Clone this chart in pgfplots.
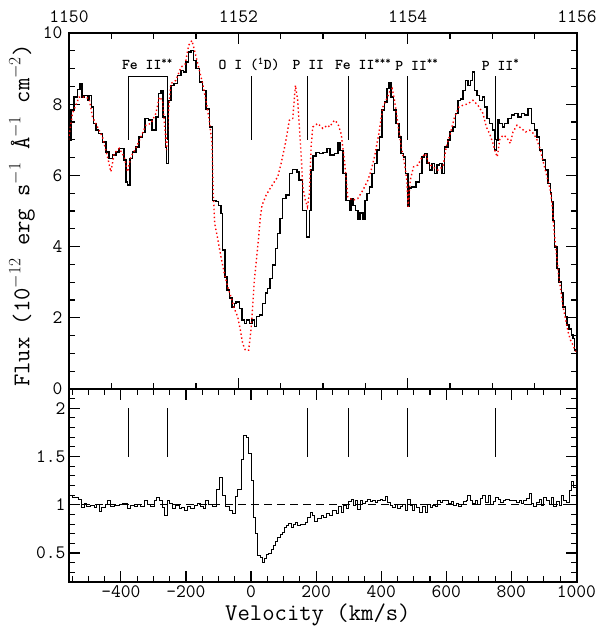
\documentclass[border=0pt]{standalone}
\usepackage{pgfplots}
\pgfplotsset{compat=1.18}
\begin{document}
\begin{tikzpicture}
\path[use as bounding box] (0pt,0pt) rectangle (601pt,630pt);
\pgfplotsset{
 every axis/.append style={
  scale only axis, width=508pt,
  axis line style={line width=1.6pt},
  every tick/.style={black, line width=1.1pt},
  major tick length=11pt, minor tick length=6pt,
  tick align=inside,
  tick label style={font=\fontsize{19}{20}\selectfont\ttfamily},
  /pgf/number format/assume math mode=true,
  label style={font=\fontsize{24}{25}\selectfont\ttfamily},
  xmin=-559.44, xmax=1001.78,
 }
}
% ---------------- top panel ----------------
\begin{axis}[at={(69pt,241pt)}, anchor=south west, height=356pt,
  ymin=0, ymax=10,
  xtick={-559.44,-39.03,481.38,1001.78}, xticklabels={1150,1152,1154,1156},
  minor xtick={-429.34,-299.23,-169.13,91.07,221.17,351.27,611.48,741.58,871.68},
  xticklabel pos=upper,
  xticklabel style={inner sep=1pt, yshift=9.5pt},
  yticklabel style={inner sep=1pt, xshift=-5.3pt},
  ytick={0,2,4,6,8,10}, minor ytick={0,0.5,...,10},
  ylabel={Flux (10$^{-12}$ erg s$^{-1}$ \AA$^{-1}$ cm$^{-2}$)},
  ylabel style={at={(axis description cs:-0.0925,0.487)}, anchor=center},
  clip=true]
\addplot[black, line width=1.5pt, const plot] coordinates {
(-561.1,7.0) (-553.9,7.83) (-543.6,8.2) (-533.4,8.41) (-526.2,8.58) (-520.0,8.2) (-512.9,8.25) (-502.6,8.1) (-497.5,8.25) (-490.3,7.92) (-484.2,7.46) (-477.0,7.27) (-468.8,7.17) (-456.5,6.94) (-446.2,6.66) (-436.0,6.48) (-425.7,6.57) (-415.4,6.66) (-405.2,6.76) (-389.8,6.43) (-384.7,5.82) (-379.5,5.73) (-372.4,6.48) (-364.2,6.66) (-353.9,6.8) (-343.7,7.08) (-333.4,7.2) (-325.2,7.6) (-315.0,7.55) (-304.7,7.27) (-292.4,7.64) (-284.2,8.3) (-277.0,8.39) (-269.8,7.64) (-263.6,6.8) (-259.5,6.34) (-253.4,8.1) (-246.2,8.53) (-236.0,8.58) (-225.7,8.81) (-215.4,8.95) (-208.3,8.9) (-200.1,9.19) (-191.9,9.47) (-184.7,9.51) (-177.5,9.23) (-169.3,9.0) (-159.0,8.62) (-148.8,8.39) (-138.5,7.86) (-128.3,7.36) (-118.0,5.3) (-107.7,5.26) (-99.5,5.16) (-92.4,4.93) (-87.2,3.9) (-80.1,3.15) (-73.9,2.78) (-66.7,2.55) (-58.5,2.31) (-51.3,2.4) (-46.2,2.45) (-36.0,2.26) (-27.8,1.94) (-19.5,1.84) (-13.4,1.94) (-5.2,1.84) (3.0,1.94) (10.2,1.75) (17.4,2.03) (25.6,2.08) (35.8,2.4) (44.0,2.69) (51.2,2.83) (58.4,3.1) (66.6,3.48) (74.8,3.95) (82.0,4.37) (89.2,4.79) (97.4,5.35) (107.6,5.45) (117.9,6.05) (128.2,6.17) (140.5,6.1) (148.0,5.87) (158.9,5.02) (171.2,4.27) (179.4,5.02) (184.6,6.15) (189.7,6.55) (199.9,6.64) (210.2,6.61) (220.5,6.64) (232.8,6.76) (243.0,6.57) (256.3,6.61) (266.6,6.91) (273.8,6.7) (282.0,6.05) (292.3,5.3) (302.5,5.02) (307.6,5.33) (312.8,5.16) (321.0,5.02) (328.1,4.76) (335.3,4.95) (343.5,4.78) (350.7,5.3) (355.8,5.49) (364.0,5.68) (372.3,6.05) (379.4,6.33) (386.6,6.71) (394.8,7.08) (403.0,7.83) (410.2,8.06) (417.4,8.44) (423.5,8.6) (430.7,8.2) (437.9,7.83) (446.1,7.46) (454.3,7.08) (461.5,6.61) (468.7,6.52) (474.8,6.05) (482.0,5.12) (487.1,5.64) (493.3,5.68) (507.6,5.82) (517.9,6.05) (526.1,6.52) (533.3,6.62) (540.4,6.35) (548.7,6.15) (556.9,6.33) (564.0,6.05) (571.2,6.29) (579.4,6.33) (587.6,6.05) (594.8,6.8) (605.1,7.0) (612.2,7.24) (620.5,7.36) (628.7,7.74) (635.9,8.11) (643.0,8.15) (651.2,8.39) (659.4,8.67) (666.6,8.53) (673.8,8.67) (679.9,8.9) (687.1,8.39) (694.3,8.25) (702.5,8.11) (710.7,8.2) (717.9,7.92) (725.1,7.6) (733.3,7.46) (741.5,7.27) (748.7,6.71) (753.8,7.0) (758.9,7.55) (764.0,7.46) (772.3,7.36) (779.4,7.46) (789.7,7.6) (800.0,7.69) (810.2,7.74) (820.5,7.64) (830.7,7.74) (841.0,7.69) (851.2,7.88) (861.5,7.46) (871.7,7.27) (878.9,7.08) (887.1,6.71) (895.3,6.43) (905.6,6.15) (912.8,5.77) (919.9,5.5) (923.0,5.26) (928.1,4.74) (933.3,3.99) (940.4,3.39) (946.6,3.01) (953.8,2.69) (958.9,2.31) (966.1,2.03) (971.2,1.8) (977.4,1.68) (984.6,1.52) (989.7,1.42) (994.8,1.09) (1002,1.09)
};
\addplot[red, line width=1.4pt, dash pattern=on 1.4pt off 2.6pt] coordinates {
(-561,7.0) (-548.8,7.74) (-538.5,7.97) (-528.3,8.2) (-512.9,8.2) (-497.5,8.16) (-487.2,7.64) (-471.8,7.36) (-456.5,7.08) (-441.1,6.52) (-430.8,6.1) (-420.6,6.61) (-405.2,6.76) (-389.8,6.52) (-379.5,6.1) (-369.3,6.52) (-353.9,6.76) (-338.5,7.08) (-323.1,7.41) (-307.8,7.46) (-292.4,7.74) (-282.1,8.2) (-271.9,8.1) (-263.6,7.17) (-259.5,6.71) (-253.4,7.83) (-246.2,8.58) (-230.8,8.67) (-215.4,9.04) (-202.1,9.13) (-191.9,9.65) (-181.6,9.79) (-171.3,9.42) (-161.1,9.04) (-148.8,8.58) (-138.5,8.11) (-128.3,7.55) (-120.0,6.9) (-116.0,5.49) (-111.8,4.65) (-102.6,4.23) (-92.4,3.71) (-82.1,3.25) (-71.8,2.87) (-61.6,2.59) (-51.3,2.26) (-41.1,2.03) (-32.9,1.66) (-25.7,1.28) (-17.5,1.09) (-7.3,1.09) (-0.1,1.66) (5.1,2.31) (10.2,3.06) (17.4,3.71) (23.5,4.27) (28.7,4.84) (33.8,5.16) (46.1,5.44) (58.4,5.63) (71.7,5.82) (82.0,5.96) (92.3,6.33) (105.6,6.9) (117.9,7.55) (128.2,7.6) (136.4,8.53) (143.5,8.1) (148.7,7.36) (153.8,6.61) (158.9,5.68) (167.1,5.3) (173.3,5.12) (179.4,5.49) (184.6,6.8) (189.7,7.36) (205.1,7.46) (220.5,7.32) (235.9,7.41) (241.0,7.36) (256.4,7.55) (266.6,7.46) (276.9,7.17) (287.1,6.43) (297.4,5.4) (312.8,5.3) (328.1,5.35) (343.5,5.58) (358.9,5.86) (369.2,6.15) (379.4,6.52) (392.8,7.17) (405.1,7.92) (415.3,8.11) (425.6,8.34) (433.8,8.44) (441.0,8.11) (451.2,7.46) (461.5,6.8) (471.7,6.33) (478.9,5.86) (483.0,5.12) (489.2,5.86) (499.4,6.24) (512.8,6.29) (526.1,6.52) (536.4,6.61) (546.6,6.33) (558.9,6.24) (574.3,6.15) (589.7,6.24) (600.0,6.8) (612.3,7.17) (625.6,7.64) (638.9,7.92) (651.2,7.97) (666.6,8.01) (682.0,8.11) (697.4,7.97) (712.8,7.74) (723.0,7.36) (733.3,7.17) (743.5,6.9) (750.7,6.66) (756.9,6.52) (764.0,7.0) (774.3,7.13) (784.6,7.08) (796.9,6.9) (805.1,7.22) (817.4,7.41) (830.7,7.32) (844.0,7.22) (856.3,7.27) (868.6,7.17) (878.9,7.0) (889.2,6.71) (899.4,6.33) (909.7,5.96) (919.9,5.58) (925.1,5.21) (931.2,4.46) (938.4,3.81) (944.6,3.25) (951.8,2.78) (958.9,2.31) (967.1,1.94) (974.3,1.61) (981.5,1.38) (989.7,1.23) (997.9,1.05)
};
% line identifications
\draw[black, line width=1pt] (axis cs:-377,7.0) -- (axis cs:-377,8.78) -- (axis cs:-257,8.78) -- (axis cs:-257,7.0);
\draw[black, line width=1pt] (axis cs:0,7.0) -- (axis cs:0,8.78);
\draw[black, line width=1pt] (axis cs:173,7.0) -- (axis cs:173,8.78);
\draw[black, line width=1pt] (axis cs:300,7.0) -- (axis cs:300,8.78);
\draw[black, line width=1pt] (axis cs:481,7.0) -- (axis cs:481,8.78);
\draw[black, line width=1pt] (axis cs:752,7.0) -- (axis cs:752,8.78);
\begin{scope}[every node/.style={font=\fontsize{15}{16}\selectfont\ttfamily\bfseries, anchor=center, inner sep=0pt}]
\node at (axis cs:-318,9.11) {Fe II\textsuperscript{**}};
\node at (axis cs:-6,9.11) {O I (\textsuperscript{1}D)};
\node at (axis cs:176,9.11) {P II};
\node at (axis cs:345,9.11) {Fe II\textsuperscript{***}};
\node at (axis cs:510,9.11) {P II\textsuperscript{**}};
\node at (axis cs:767,9.11) {P II\textsuperscript{*}};
\end{scope}
\end{axis}
% ---------------- bottom panel ----------------
\begin{axis}[at={(69pt,48pt)}, anchor=south west, height=193pt,
  ymin=0.2, ymax=2.2,
  xtick={-400,-200,0,200,400,600,800,1000},
  xticklabels={-400,-200,0,200,400,600,800,1000},
  minor xtick={-550,-500,...,1000},
  ytick={0.5,1,1.5,2}, yticklabels={0.5,1,1.5,2},
  minor ytick={0.2,0.3,...,2.2},
  xlabel={Velocity (km/s)},
  xlabel style={at={(axis description cs:0.49,-0.17)}, anchor=center}]
\addplot[black, line width=0.9pt, dash pattern=on 8pt off 5pt] coordinates {(-559.44,1) (1001.78,1)};
\addplot[black, line width=0.9pt, const plot] coordinates {
(-559.1,1.097) (-548.9,1.08) (-530.4,1.06) (-520.1,0.976) (-513.0,1.01) (-505.8,0.98) (-492.5,0.99) (-482.2,0.976) (-475.0,1.0) (-466.8,0.934) (-458.6,0.976) (-448.3,1.0) (-441.2,1.05) (-430.9,0.98) (-420.7,0.99) (-405.3,1.0) (-395.0,1.01) (-379.6,0.96) (-369.4,0.99) (-359.1,0.98) (-348.9,1.0) (-338.6,0.98) (-326.3,1.05) (-318.1,1.0) (-307.8,0.98) (-297.6,1.045) (-290.4,1.08) (-280.1,1.045) (-271.9,0.976) (-264.7,0.89) (-256.5,1.05) (-249.4,1.017) (-241.2,0.96) (-230.9,0.99) (-220.7,0.96) (-212.4,0.976) (-205.3,0.94) (-195.0,0.98) (-184.8,0.96) (-174.5,0.99) (-164.3,1.01) (-154.0,0.98) (-146.8,0.96) (-138.6,1.04) (-130.4,1.0) (-118.1,0.98) (-107.8,1.156) (-97.6,1.28) (-87.3,1.097) (-79.1,0.98) (-66.8,0.94) (-56.6,0.906) (-48.4,1.087) (-41.2,1.156) (-30.9,1.47) (-22.7,1.72) (-15.5,1.70) (-7.3,1.53) (-0.1,1.25) (7.0,0.87) (13.2,0.70) (20.4,0.47) (27.6,0.455) (35.8,0.40) (40.9,0.44) (46.0,0.49) (54.2,0.50) (61.4,0.54) (68.6,0.58) (74.7,0.62) (81.9,0.66) (89.1,0.69) (95.2,0.715) (102.4,0.77) (109.6,0.785) (115.8,0.81) (122.9,0.77) (130.1,0.795) (136.3,0.82) (143.4,0.785) (150.6,0.795) (158.8,0.80) (167.0,0.82) (174.2,0.87) (181.4,0.92) (187.5,0.89) (194.8,0.83) (205.0,0.855) (215.3,0.89) (222.4,0.87) (230.7,0.91) (240.9,0.89) (251.2,0.94) (261.4,0.91) (269.6,0.98) (276.8,0.92) (284.0,0.99) (292.2,0.96) (300.4,1.03) (307.6,1.06) (314.8,0.99) (320.9,1.05) (328.1,0.95) (335.3,1.045) (343.5,1.01) (351.7,1.03) (358.9,1.06) (366.0,1.03) (374.2,1.04) (382.4,1.02) (389.6,1.045) (396.8,1.06) (405.0,1.04) (413.2,1.087) (420.4,1.02) (427.6,0.99) (435.8,0.976) (444.0,1.0) (451.2,0.96) (458.3,0.98) (466.5,1.0) (474.8,0.94) (481.9,1.06) (489.1,0.99) (497.3,0.94) (502.4,1.0) (509.6,0.97) (517.8,0.92) (528.1,0.98) (536.3,0.92) (543.5,1.0) (550.6,0.976) (558.9,0.99) (567.1,0.98) (574.2,1.04) (581.4,1.02) (589.7,1.05) (599.9,1.04) (608.1,1.01) (615.3,1.03) (622.4,0.99) (630.7,1.01) (638.9,0.98) (646.0,1.0) (653.2,1.03) (661.4,1.045) (666.5,1.097) (673.7,1.04) (681.9,1.01) (690.1,1.05) (697.3,1.0) (704.5,1.07) (712.7,1.097) (720.9,1.02) (728.1,1.097) (735.3,1.0) (743.5,1.03) (751.7,1.08) (758.9,1.06) (766.0,1.02) (774.2,1.04) (782.4,1.06) (792.7,1.04) (799.9,1.05) (807.1,1.04) (815.3,1.02) (823.5,1.04) (830.7,1.01) (837.8,1.05) (846.0,1.07) (854.3,1.115) (861.4,1.01) (868.6,0.98) (876.8,1.02) (885.0,1.06) (892.2,0.99) (899.4,1.08) (907.6,1.04) (915.8,1.0) (923.0,1.08) (930.1,0.98) (938.3,1.03) (946.6,0.99) (953.7,1.097) (960.9,1.045) (969.1,1.02) (977.3,1.15) (984.5,1.24) (991.7,1.18) (1002,1.18)
};
\draw[black, line width=1pt] (axis cs:-377,1.5) -- (axis cs:-377,2.0);
\draw[black, line width=1pt] (axis cs:-257,1.5) -- (axis cs:-257,2.0);
\draw[black, line width=1pt] (axis cs:173,1.5) -- (axis cs:173,2.0);
\draw[black, line width=1pt] (axis cs:300,1.5) -- (axis cs:300,2.0);
\draw[black, line width=1pt] (axis cs:480,1.5) -- (axis cs:480,2.0);
\draw[black, line width=1pt] (axis cs:752,1.5) -- (axis cs:752,2.0);
\end{axis}
\end{tikzpicture}
\end{document}
